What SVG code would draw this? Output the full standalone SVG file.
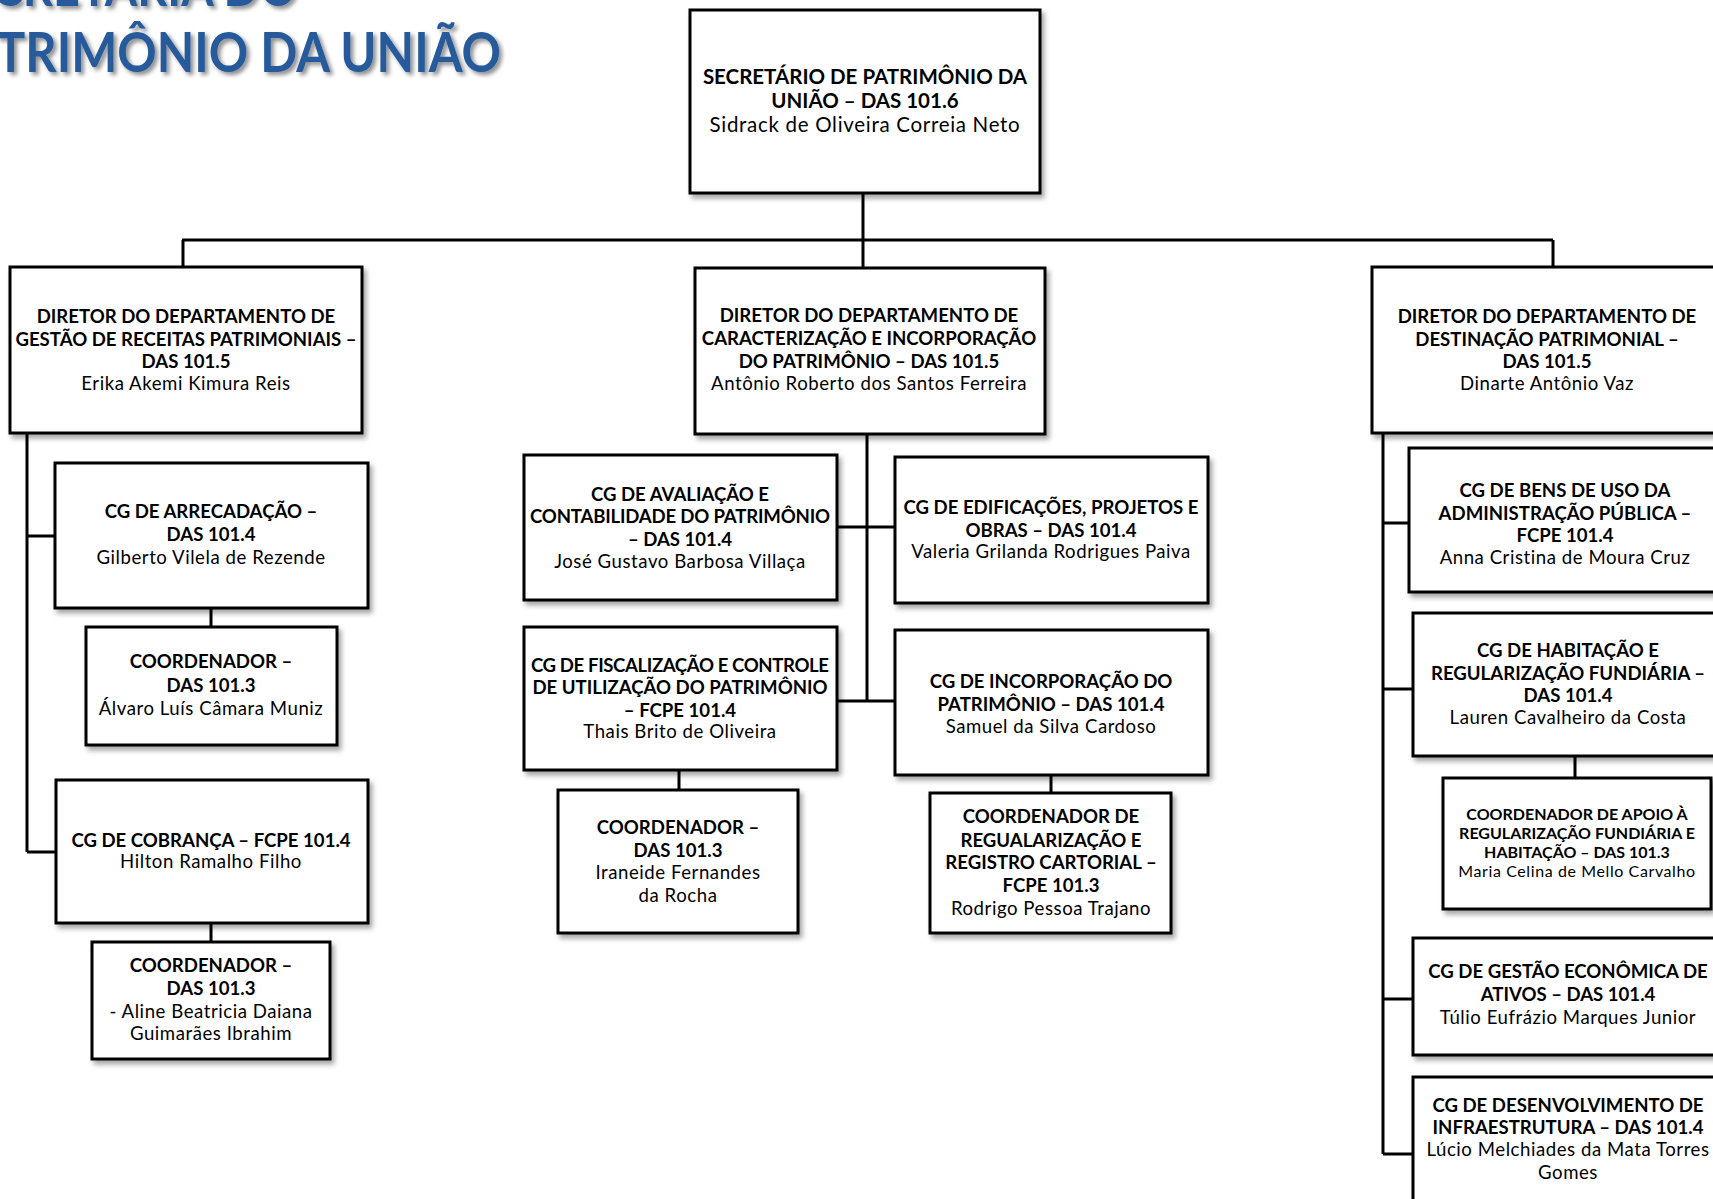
<svg xmlns="http://www.w3.org/2000/svg" width="1713" height="1199" viewBox="0 0 1713 1199">
<defs>
<filter id="sh" x="-5%" y="-5%" width="115%" height="120%">
<feDropShadow dx="3" dy="4" stdDeviation="2.5" flood-color="#000" flood-opacity="0.35"/>
</filter>
<filter id="tsh" x="-5%" y="-20%" width="115%" height="150%">
<feDropShadow dx="3" dy="3" stdDeviation="2" flood-color="#000" flood-opacity="0.45"/>
</filter>
<style>
.box{fill:#fff;stroke:#000;stroke-width:3;filter:url(#sh)}
text{font-family:Lato,"Open Sans","Liberation Sans",sans-serif;font-size:18.6px;letter-spacing:.55px;fill:#000;text-anchor:middle}
.b{font-weight:bold;letter-spacing:0}
.top{font-size:20.5px;letter-spacing:.7px}
.top.b{letter-spacing:0}
.sm{font-size:16px;letter-spacing:.6px}
.sm.b{letter-spacing:0}
.title{font-size:55px;font-weight:bold;letter-spacing:0;fill:#285A9B;filter:url(#tsh);text-anchor:start}
#connectors path{fill:none;stroke:#000;stroke-width:3}
</style>
</defs>
<rect width="1713" height="1199" fill="#fff"/>

<g id="title">
<text class="title" x="-60" y="6" textLength="357" lengthAdjust="spacingAndGlyphs">SECRETARIA DO</text>
<text class="title" x="-4" y="72" textLength="505" lengthAdjust="spacingAndGlyphs">TRIMÔNIO DA UNIÃO</text>
</g>

<g id="connectors">
<path d="M863 193V240M182 240H1553M183 240V267M863 240V268M1553 240V267"/>
<path d="M27 433V852M27 536H55M27 852H56M211 608V627M211 923V942"/>
<path d="M867 434V702M837 527H895M837 701H895M679 770V790M1051 775V793"/>
<path d="M1383 433V1154M1383 523H1409M1383 689H1413M1383 999H1413M1383 1154H1413M1575 756V778"/>
</g>

<g id="n-secretario">
<rect class="box" x="690" y="10" width="350" height="183"/>
<text class="b top" x="865" y="84">SECRETÁRIO DE PATRIMÔNIO DA</text>
<text class="b top" x="865" y="108">UNIÃO – DAS 101.6</text>
<text class="top" x="865" y="132">Sidrack de Oliveira Correia Neto</text>
</g>

<g id="n-dir-receitas">
<rect class="box" x="10" y="267" width="352" height="166"/>
<text class="b" x="186" y="323">DIRETOR DO DEPARTAMENTO DE</text>
<text class="b" x="186" y="346">GESTÃO DE RECEITAS PATRIMONIAIS –</text>
<text class="b" x="186" y="368">DAS 101.5</text>
<text x="186" y="390">Erika Akemi Kimura Reis</text>
</g>

<g id="n-dir-caracterizacao">
<rect class="box" x="695" y="268" width="350" height="166"/>
<text class="b" x="869" y="322">DIRETOR DO DEPARTAMENTO DE</text>
<text class="b" x="869" y="345">CARACTERIZAÇÃO E INCORPORAÇÃO</text>
<text class="b" x="869" y="368">DO PATRIMÔNIO – DAS 101.5</text>
<text x="869" y="390">Antônio Roberto dos Santos Ferreira</text>
</g>

<g id="n-dir-destinacao">
<rect class="box" x="1372" y="267" width="350" height="166"/>
<text class="b" x="1547" y="323">DIRETOR DO DEPARTAMENTO DE</text>
<text class="b" x="1547" y="346">DESTINAÇÃO PATRIMONIAL –</text>
<text class="b" x="1547" y="368">DAS 101.5</text>
<text x="1547" y="390">Dinarte Antônio Vaz</text>
</g>

<g id="n-cg-arrecadacao">
<rect class="box" x="55" y="463" width="313" height="145"/>
<text class="b" x="211" y="518">CG DE ARRECADAÇÃO –</text>
<text class="b" x="211" y="541">DAS 101.4</text>
<text x="211" y="564">Gilberto Vilela de Rezende</text>
</g>

<g id="n-coord-alvaro">
<rect class="box" x="86" y="627" width="251" height="118"/>
<text class="b" x="211" y="668">COORDENADOR –</text>
<text class="b" x="211" y="692">DAS 101.3</text>
<text x="211" y="715">Álvaro Luís Câmara Muniz</text>
</g>

<g id="n-cg-cobranca">
<rect class="box" x="56" y="780" width="312" height="143"/>
<text class="b" x="211" y="847">CG DE COBRANÇA – FCPE 101.4</text>
<text x="211" y="868">Hilton Ramalho Filho</text>
</g>

<g id="n-coord-aline">
<rect class="box" x="92" y="942" width="238" height="117"/>
<text class="b" x="211" y="972">COORDENADOR –</text>
<text class="b" x="211" y="995">DAS 101.3</text>
<text x="211" y="1018">- Aline Beatricia Daiana</text>
<text x="211" y="1040">Guimarães Ibrahim</text>
</g>

<g id="n-cg-avaliacao">
<rect class="box" x="524" y="455" width="313" height="145"/>
<text class="b" x="680" y="501">CG DE AVALIAÇÃO E</text>
<text class="b" x="680" y="523" textLength="300">CONTABILIDADE DO PATRIMÔNIO</text>
<text class="b" x="680" y="546">– DAS 101.4</text>
<text x="680" y="568">José Gustavo Barbosa Villaça</text>
</g>

<g id="n-cg-edificacoes">
<rect class="box" x="895" y="457" width="313" height="146"/>
<text class="b" x="1051" y="514">CG DE EDIFICAÇÕES, PROJETOS E</text>
<text class="b" x="1051" y="537">OBRAS – DAS 101.4</text>
<text x="1051" y="558">Valeria Grilanda Rodrigues Paiva</text>
</g>

<g id="n-cg-fiscalizacao">
<rect class="box" x="524" y="627" width="313" height="143"/>
<text class="b" x="680" y="672" textLength="298">CG DE FISCALIZAÇÃO E CONTROLE</text>
<text class="b" x="680" y="694">DE UTILIZAÇÃO DO PATRIMÔNIO</text>
<text class="b" x="680" y="717">– FCPE 101.4</text>
<text x="680" y="738">Thais Brito de Oliveira</text>
</g>

<g id="n-cg-incorporacao">
<rect class="box" x="895" y="630" width="313" height="145"/>
<text class="b" x="1051" y="688">CG DE INCORPORAÇÃO DO</text>
<text class="b" x="1051" y="711">PATRIMÔNIO – DAS 101.4</text>
<text x="1051" y="733">Samuel da Silva Cardoso</text>
</g>

<g id="n-coord-iraneide">
<rect class="box" x="558" y="790" width="240" height="143"/>
<text class="b" x="678" y="834">COORDENADOR –</text>
<text class="b" x="678" y="857">DAS 101.3</text>
<text x="678" y="879">Iraneide Fernandes</text>
<text x="678" y="902">da Rocha</text>
</g>

<g id="n-coord-regularizacao">
<rect class="box" x="930" y="793" width="241" height="140"/>
<text class="b" x="1051" y="823">COORDENADOR DE</text>
<text class="b" x="1051" y="847">REGUALARIZAÇÃO E</text>
<text class="b" x="1051" y="869">REGISTRO CARTORIAL –</text>
<text class="b" x="1051" y="892">FCPE 101.3</text>
<text x="1051" y="915">Rodrigo Pessoa Trajano</text>
</g>

<g id="n-cg-bens">
<rect class="box" x="1409" y="448" width="312" height="144"/>
<text class="b" x="1565" y="497">CG DE BENS DE USO DA</text>
<text class="b" x="1565" y="520">ADMINISTRAÇÃO PÚBLICA –</text>
<text class="b" x="1565" y="542">FCPE 101.4</text>
<text x="1565" y="564">Anna Cristina de Moura Cruz</text>
</g>

<g id="n-cg-habitacao">
<rect class="box" x="1413" y="613" width="310" height="143"/>
<text class="b" x="1568" y="657">CG DE HABITAÇÃO E</text>
<text class="b" x="1568" y="680">REGULARIZAÇÃO FUNDIÁRIA –</text>
<text class="b" x="1568" y="702">DAS 101.4</text>
<text x="1568" y="724">Lauren Cavalheiro da Costa</text>
</g>

<g id="n-coord-apoio">
<rect class="box" x="1443" y="778" width="268" height="131"/>
<text class="b sm" x="1577" y="820">COORDENADOR DE APOIO À</text>
<text class="b sm" x="1577" y="839">REGULARIZAÇÃO FUNDIÁRIA E</text>
<text class="b sm" x="1577" y="858">HABITAÇÃO – DAS 101.3</text>
<text class="sm" x="1577" y="877">Maria Celina de Mello Carvalho</text>
</g>

<g id="n-cg-gestao">
<rect class="box" x="1413" y="938" width="310" height="117"/>
<text class="b" x="1568" y="978">CG DE GESTÃO ECONÔMICA DE</text>
<text class="b" x="1568" y="1001">ATIVOS – DAS 101.4</text>
<text x="1568" y="1024">Túlio Eufrázio Marques Junior</text>
</g>

<g id="n-cg-desenvolvimento">
<rect class="box" x="1413" y="1077" width="310" height="135"/>
<text class="b" x="1568" y="1112">CG DE DESENVOLVIMENTO DE</text>
<text class="b" x="1568" y="1134">INFRAESTRUTURA – DAS 101.4</text>
<text x="1568" y="1156">Lúcio Melchiades da Mata Torres</text>
<text x="1568" y="1179">Gomes</text>
</g>
</svg>
